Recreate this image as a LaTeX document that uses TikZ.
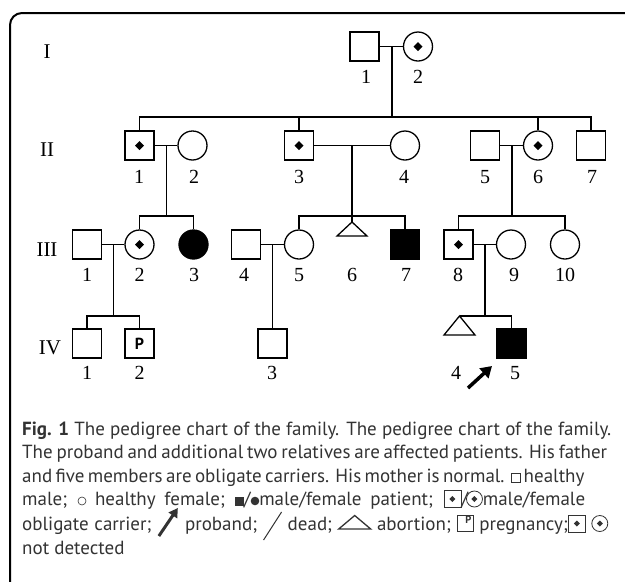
\documentclass[tikz,border=0pt]{standalone}
\usepackage{fontspec}
\setmainfont{Liberation Serif}
\newfontfamily\capfont{PT Sans}
\usetikzlibrary{arrows.meta}
% inline caption symbols (explicit pt units)
\newcommand\Ssq{\tikz[baseline=0pt]\draw[line width=0.6pt] (0pt,0pt) rectangle (9pt,9pt);}
\newcommand\Sci{\tikz[baseline=0pt]\draw[line width=0.6pt] (4pt,4.5pt) circle[radius=4pt];}
\newcommand\Sfsq{\tikz[baseline=0pt]\fill (0pt,0pt) rectangle (8.5pt,9pt);}
\newcommand\Sfci{\tikz[baseline=0pt]\fill (4.3pt,4.5pt) circle[radius=4.3pt];}
\newcommand\Scsq{\tikz[baseline=2pt]{\draw[line width=0.8pt] (0pt,0pt) rectangle (17pt,17pt);
  \fill (8.5pt,5.5pt)--(11.5pt,8.5pt)--(8.5pt,11.5pt)--(5.5pt,8.5pt)--cycle;}}
\newcommand\Scci{\tikz[baseline=2pt]{\draw[line width=0.8pt] (8.5pt,8.5pt) circle[radius=8pt];
  \fill (8.5pt,5.5pt)--(11.5pt,8.5pt)--(8.5pt,11.5pt)--(5.5pt,8.5pt)--cycle;}}
\newcommand\Sarr{\tikz[baseline=6pt]\draw[line width=3pt,-{Triangle[length=9pt,width=10pt]}] (0pt,0pt)--(19pt,28pt);}
\newcommand\Sslash{\tikz[baseline=10pt]\draw[line width=1pt] (0pt,0pt)--(18pt,28pt);}
\newcommand\Stri{\tikz[baseline=-1pt]\draw[line width=1.3pt] (0pt,0pt)--(32pt,0pt)--(16pt,13.5pt)--cycle;}
\newcommand\SP{\tikz[baseline=1pt]{\draw[line width=0.8pt] (0pt,0pt) rectangle (16pt,16pt);
  \node[inner sep=0pt,font=\capfont\bfseries\fontsize{10.5}{10.5}\selectfont] at (8pt,8pt) {P};}}
\begin{document}
\begin{tikzpicture}[x=1pt,y=-1pt,
  ped/.style={line width=1.3pt},
  male/.style={draw,rectangle,minimum size=29pt,inner sep=0pt,line width=1.3pt},
  female/.style={draw,circle,minimum size=29pt,inner sep=0pt,line width=1.3pt},
  affected/.style={fill=black},
  carrier/.style={path picture={\fill (path picture bounding box.center) ++(0pt,4.5pt) -- ++(4.5pt,-4.5pt) -- ++(-4.5pt,-4.5pt) -- ++(-4.5pt,4.5pt) -- cycle;}},
  num/.style={inner sep=0pt,font=\fontsize{20}{20}\selectfont},
  gen/.style={inner sep=0pt,font=\fontsize{21}{21}\selectfont},
  captext/.style={anchor=base west,inner sep=0pt,text=black!80,font=\capfont\fontsize{19}{23}\selectfont},
  proband/.style={line width=3.5pt,-{Triangle[length=11pt,width=13pt]}}]
\useasboundingbox (0,0) rectangle (625,582);
\fill[white] (0,0) rectangle (625,582);
% frame
\draw[line width=2pt,rounded corners=12pt] (626,13) -- (10,13) -- (10,590);
% generation labels
\node[gen] (gI) at (47,52) {I};
\node[gen] (gII) at (47,150) {II};
\node[gen] (gIII) at (47,250) {III};
\node[gen] (gIV) at (50,348) {IV};
% generation I
\node[male] (I1) at (364.5,46.5) {};
\node[female,carrier] (I2) at (418,46.5) {};
% generation II
\node[male,carrier] (II1) at (139.5,145.5) {};
\node[female] (II2) at (192.5,145.5) {};
\node[male,carrier] (II3) at (299,145.5) {};
\node[female] (II4) at (405,145.5) {};
\node[male] (II5) at (485,145.5) {};
\node[female,carrier] (II6) at (538,145.5) {};
\node[male] (II7) at (591,145.5) {};
% generation III
\node[male] (III1) at (87,244.5) {};
\node[female,carrier] (III2) at (139.5,244.5) {};
\node[female,affected] (III3) at (193.5,244.5) {};
\node[male] (III4) at (246,244.5) {};
\node[female] (III5) at (299,244.5) {};
\coordinate (III6) at (352,222);
\node[male,affected] (III7) at (405,244.5) {};
\node[male,carrier] (III8) at (458.5,244.5) {};
\node[female] (III9) at (511,244.5) {};
\node[female] (III10) at (565,244.5) {};
% generation IV
\node[male] (IV1) at (87,343.5) {};
\node[male] (IV2) at (139.5,343.5) {\capfont\bfseries\fontsize{16}{16}\selectfont P};
\node[male] (IV3) at (272.5,343.5) {};
\coordinate (IV4) at (459.5,316);
\node[male,affected] (IV5) at (511.5,343.5) {};
% abortion triangles
\draw[ped] (III6) -- ++(15,14) -- ++(-30,0) -- cycle;
\draw[ped] (IV4) -- ++(15.5,19) -- ++(-31,0) -- cycle;
% couples and lines of descent
\coordinate (mI) at (392,46.5);
\coordinate (sI) at (392,117);
\draw[ped] (I1) -- (I2);
\draw[ped] (mI) -- (sI);
\draw[ped] (II1.north) |- (sI) -| (II7.north);
\draw[ped] (II3.north) -- (II3.north |- sI);
\draw[ped] (II6.north) -- (II6.north |- sI);
\coordinate (m12) at (166.5,145.5);
\coordinate (s12) at (166.5,216);
\draw[ped] (II1) -- (II2);
\draw[ped] (m12) -- (s12);
\draw[ped] (III2.north) |- (s12) -| (III3.north);
\coordinate (m34) at (352,145.5);
\coordinate (s34) at (352,216);
\draw[ped] (II3) -- (II4);
\draw[ped] (m34) -- (III6);
\draw[ped] (III5.north) |- (s34) -| (III7.north);
\coordinate (m56) at (512,145.5);
\coordinate (s56) at (512,216);
\draw[ped] (II5) -- (II6);
\draw[ped] (m56) -- (s56);
\draw[ped] (III8.north) |- (s56) -| (III10.north);
\coordinate (mIII12) at (113.5,244.5);
\coordinate (sIII12) at (113.5,316);
\draw[ped] (III1) -- (III2);
\draw[ped] (mIII12) -- (sIII12);
\draw[ped] (IV1.north) |- (sIII12) -| (IV2.north);
\coordinate (mIII45) at (272.5,244.5);
\draw[ped] (III4) -- (III5);
\draw[ped] (mIII45) -- (IV3.north);
\coordinate (mIII89) at (485,244.5);
\coordinate (sIII89) at (485,316);
\draw[ped] (III8) -- (III9);
\draw[ped] (mIII89) -- (sIII89);
\draw[ped] (IV4) -- (sIII89) -| (IV5.north);
% proband arrow
\coordinate (arT) at (468,388);
\coordinate (arH) at (492,366);
\draw[proband] (arT) -- (arH);
% numbers
\node[num] (nI1) at (366,77) {1};
\node[num] (nI2) at (418,77) {2};
\node[num] (nII1) at (139,177) {1};
\node[num] (nII2) at (194,177) {2};
\node[num] (nII3) at (299,177) {3};
\node[num] (nII4) at (404,177) {4};
\node[num] (nII5) at (485,177) {5};
\node[num] (nII6) at (538,177) {6};
\node[num] (nII7) at (592,177) {7};
\node[num] (nIII1) at (87,275) {1};
\node[num] (nIII2) at (139.5,275) {2};
\node[num] (nIII3) at (194,275) {3};
\node[num] (nIII4) at (244,275) {4};
\node[num] (nIII5) at (299,275) {5};
\node[num] (nIII6) at (352,275) {6};
\node[num] (nIII7) at (406,275) {7};
\node[num] (nIII8) at (458,275) {8};
\node[num] (nIII9) at (514,275) {9};
\node[num] (nIII10) at (565,275) {10};
\node[num] (nIV1) at (87,373) {1};
\node[num] (nIV2) at (139.5,373) {2};
\node[num] (nIV3) at (272,373) {3};
\node[num] (nIV4) at (456,373) {4};
\node[num] (nIV5) at (515,373) {5};
% caption
\node[captext] (c1) at (22,435) {\makebox[589pt][s]{{\bfseries Fig. 1} The pedigree chart of the family. The pedigree chart of the family.}};
\node[captext] (c2) at (22,458.5) {\makebox[585pt][s]{The proband and additional two relatives are affected patients. His father}};
\node[captext] (c3) at (22,482) {\makebox[559pt][s]{and five members are obligate carriers. His mother is normal. \Ssq{} healthy}};
\node[captext] (c4) at (22,505.5) {\makebox[563pt][s]{male; \Sci{} healthy female; \Sfsq/\Sfci male/female patient; \Scsq/\kern-2pt\Scci male/female}};
\node[captext] (c5) at (22,530) {\makebox[586pt][s]{obligate carrier; \Sarr{} proband; \Sslash{} dead; \Stri{} abortion; \SP{} pregnancy;\Scsq{} \Scci}};
\node[captext] (c6) at (22,554) {not detected};
\end{tikzpicture}
\end{document}
